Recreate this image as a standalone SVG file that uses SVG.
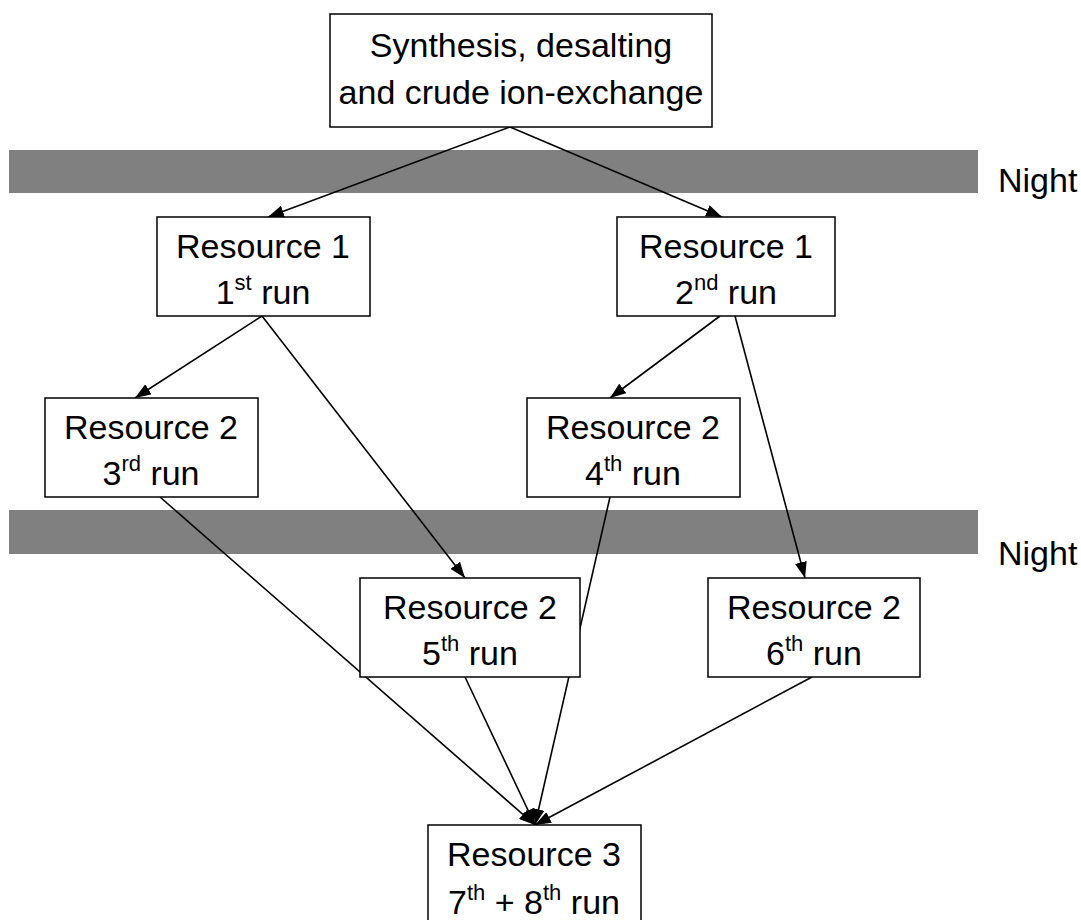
<svg xmlns="http://www.w3.org/2000/svg" width="1081" height="920" viewBox="0 0 1081 920">
  <style>
    .box { fill: #ffffff; stroke: #000000; stroke-width: 1.5; }
    .band { fill: #808080; }
    .lbl { font-family: "Liberation Sans", Arial, sans-serif; font-size: 34px; fill: #000000; text-anchor: middle; }
    .night { text-anchor: start; }
    .sup { font-size: 22px; }
    .edge { stroke: #000000; stroke-width: 1.6; fill: none; marker-end: url(#arrow); }
  </style>
  <defs>
    <marker id="arrow" viewBox="0 0 16 12" refX="16" refY="6" markerWidth="16" markerHeight="12" markerUnits="userSpaceOnUse" orient="auto">
      <path d="M0,0 L16,6 L0,12 Z" fill="#000000"/>
    </marker>
  </defs>
  <rect width="1081" height="920" fill="#ffffff"/>

  <!-- night bands -->
  <g id="night1">
    <rect class="band" x="9" y="150" width="969" height="43"/>
    <text class="lbl night" x="998" y="192">Night</text>
  </g>
  <g id="night2">
    <rect class="band" x="9" y="510" width="969" height="44"/>
    <text class="lbl night" x="998" y="565">Night</text>
  </g>

  <!-- connectors -->
  <g id="connectors">
    <line class="edge" x1="510" y1="127" x2="268" y2="217"/>
    <line class="edge" x1="510" y1="127" x2="722" y2="217"/>
    <line class="edge" x1="262" y1="316" x2="135" y2="398"/>
    <line class="edge" x1="262" y1="316" x2="465" y2="578"/>
    <line class="edge" x1="720" y1="316" x2="610" y2="398"/>
    <line class="edge" x1="735" y1="316" x2="805" y2="578"/>
    <line class="edge" x1="160" y1="497" x2="535" y2="825"/>
    <line class="edge" x1="465" y1="677" x2="535" y2="825"/>
    <line class="edge" x1="610" y1="497" x2="535" y2="825"/>
    <line class="edge" x1="812" y1="677" x2="535" y2="825"/>
  </g>

  <g id="synthesis">
    <rect class="box" x="330" y="14" width="382" height="113"/>
    <text class="lbl" x="521" y="57">Synthesis, desalting</text>
    <text class="lbl" x="521" y="104">and crude ion-exchange</text>
  </g>
  <g id="r1-run1">
    <rect class="box" x="157" y="217" width="213" height="99"/>
    <text class="lbl" x="263" y="258">Resource 1</text>
    <text class="lbl" x="263" y="304">1<tspan class="sup" dy="-14">st</tspan><tspan dy="14"> run</tspan></text>
  </g>
  <g id="r1-run2">
    <rect class="box" x="617" y="217" width="218" height="99"/>
    <text class="lbl" x="726" y="258">Resource 1</text>
    <text class="lbl" x="726" y="304">2<tspan class="sup" dy="-14">nd</tspan><tspan dy="14"> run</tspan></text>
  </g>
  <g id="r2-run3">
    <rect class="box" x="45" y="398" width="213" height="99"/>
    <text class="lbl" x="151" y="439">Resource 2</text>
    <text class="lbl" x="151" y="485">3<tspan class="sup" dy="-14">rd</tspan><tspan dy="14"> run</tspan></text>
  </g>
  <g id="r2-run4">
    <rect class="box" x="527" y="398" width="213" height="99"/>
    <text class="lbl" x="633" y="439">Resource 2</text>
    <text class="lbl" x="633" y="485">4<tspan class="sup" dy="-14">th</tspan><tspan dy="14"> run</tspan></text>
  </g>
  <g id="r2-run5">
    <rect class="box" x="360" y="578" width="220" height="99"/>
    <text class="lbl" x="470" y="619">Resource 2</text>
    <text class="lbl" x="470" y="665">5<tspan class="sup" dy="-14">th</tspan><tspan dy="14"> run</tspan></text>
  </g>
  <g id="r2-run6">
    <rect class="box" x="708" y="578" width="212" height="99"/>
    <text class="lbl" x="814" y="619">Resource 2</text>
    <text class="lbl" x="814" y="665">6<tspan class="sup" dy="-14">th</tspan><tspan dy="14"> run</tspan></text>
  </g>
  <g id="r3-run7-8">
    <rect class="box" x="428" y="825" width="213" height="99"/>
    <text class="lbl" x="534" y="866">Resource 3</text>
    <text class="lbl" x="534" y="914">7<tspan class="sup" dy="-14">th</tspan><tspan dy="14"> + 8</tspan><tspan class="sup" dy="-14">th</tspan><tspan dy="14"> run</tspan></text>
  </g>
</svg>
